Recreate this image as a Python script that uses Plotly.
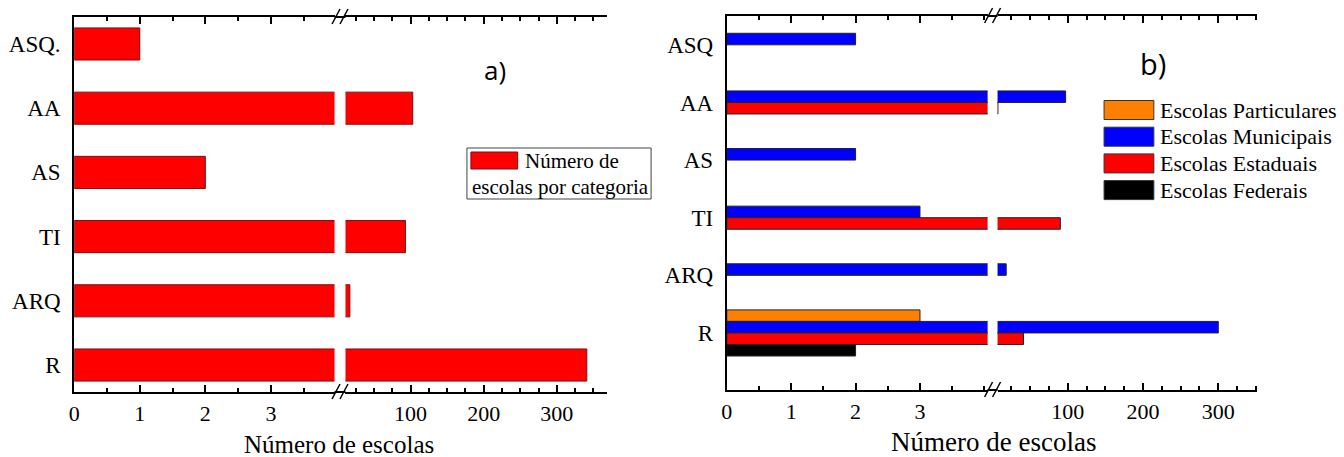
import plotly.graph_objects as go

# ---------------- data ----------------
categories_a = ["R", "ARQ", "TI", "AS", "AA", "ASQ."]
values_a = [341, 17, 93, 2, 103, 1]

categories_b = ["R", "ARQ", "TI", "AS", "AA", "ASQ"]
particulares = [3, None, None, None, None, None]
municipais = [300, 18, 3, 2, 97, 2]
estaduais = [41, None, 90, None, 7, None]
federais = [2, None, None, None, None, None]

series_names_b = ["Escolas Particulares", "Escolas Municipais", "Escolas Estaduais", "Escolas Federais"]
series_values_b = [particulares, municipais, estaduais, federais]

left_tickvals = [0, 1, 2, 3]
right_tickvals = [100, 200, 300]

legend_a_line1 = "Número de"
legend_a_line2 = "escolas por categoria"
x_title = "Número de escolas"

# ---------------- styles ----------------
W, H = 1344, 457
colors_b = ["#FF8000", "#0000FF", "#FF0000", "#000000"]
offsets_b = [0.2, 0.0, -0.2, -0.4]
FONT = "Liberation Serif"


def fx(px):
    return px / W


def fy(py):
    return 1 - py / H


fig = go.Figure()

# panel a
for xa in ["x", "x2"]:
    fig.add_trace(go.Bar(
        x=values_a, y=categories_a, orientation="h", xaxis=xa, yaxis="y",
        width=0.5, marker=dict(color="#FF0000", line=dict(color="#7a1010", width=1)),
        showlegend=False, name="Número de escolas por categoria"))

# panel b
for name, vals, col, off in zip(series_names_b, series_values_b, colors_b, offsets_b):
    for xa in ["x3", "x4"]:
        fig.add_trace(go.Bar(
            x=vals, y=categories_b, orientation="h", xaxis=xa, yaxis="y2",
            width=0.2, offset=off,
            marker=dict(color=col, line=dict(color="#222222", width=1)),
            name=name, showlegend=False))

common_x = dict(
    showline=True, linewidth=2, linecolor="black", mirror="ticks",
    ticks="inside", ticklen=7, tickwidth=1.5, tickcolor="black",
    showgrid=False, zeroline=False, fixedrange=True,
    tickfont=dict(family=FONT, size=22, color="black"),
    ticklabelstandoff=1,
)

fig.update_layout(
    width=W, height=H,
    margin=dict(l=0, r=0, t=0, b=0),
    paper_bgcolor="white", plot_bgcolor="white",
    barmode="overlay", showlegend=False,
    font=dict(family=FONT, color="black"),
    xaxis=dict(domain=[fx(68.5), fx(330)], range=[0, 3.97], anchor="y",
               tickvals=left_tickvals,
               minor=dict(dtick=0.5, tick0=0, ticks="inside", ticklen=4, tickcolor="black"),
               **common_x),
    xaxis2=dict(domain=[fx(341), fx(604)], range=[11, 369], anchor="y",
                tickvals=right_tickvals,
                minor=dict(dtick=25, tick0=0, ticks="inside", ticklen=4, tickcolor="black"),
                **common_x),
    yaxis=dict(domain=[fy(392), fy(17)], anchor="x", type="category",
               categoryorder="array", categoryarray=categories_a,
               range=[-0.42, 5.42], showline=True, linewidth=2, linecolor="black",
               ticks="", showgrid=False, zeroline=False, ticklabelstandoff=7,
               tickfont=dict(family=FONT, size=23, color="black")),
    xaxis3=dict(domain=[fx(724), fx(986)], range=[0, 4.05], anchor="y2",
                tickvals=left_tickvals,
                minor=dict(dtick=0.5, tick0=0, ticks="inside", ticklen=4, tickcolor="black"),
                **common_x),
    xaxis4=dict(domain=[fx(996), fx(1257)], range=[6.5, 352], anchor="y2",
                tickvals=right_tickvals,
                minor=dict(dtick=25, tick0=0, ticks="inside", ticklen=4, tickcolor="black"),
                **common_x),
    yaxis2=dict(domain=[fy(390), fy(16)], anchor="x3", type="category",
                categoryorder="array", categoryarray=categories_b,
                range=[-0.99, 5.5], showline=True, linewidth=2, linecolor="black",
                ticks="", showgrid=False, zeroline=False, ticklabelstandoff=7,
                tickfont=dict(family=FONT, size=23, color="black")),
)

# ---- broken-axis decorations ----
shapes = []
for (x0, x1, ytop, ybot) in [(330, 341, 17, 392), (986, 996, 16, 390)]:
    xc = (x0 + x1) / 2 + 1
    for yy in (ytop, ybot):
        shapes.append(dict(type="line", xref="paper", yref="paper",
                           x0=fx(x0), x1=fx(x1), y0=fy(yy), y1=fy(yy),
                           line=dict(color="black", width=2)))
        for dx in (-5, 3):
            shapes.append(dict(type="line", xref="paper", yref="paper",
                               x0=fx(xc + dx - 4), x1=fx(xc + dx + 4),
                               y0=fy(yy + 7), y1=fy(yy - 8),
                               line=dict(color="black", width=1.5)))

annotations = []

# legend for panel a (box with wrapped label)
shapes.append(dict(type="rect", xref="paper", yref="paper",
                   x0=fx(463), x1=fx(648), y0=fy(199), y1=fy(148),
                   line=dict(color="#444444", width=1), fillcolor="white", layer="above"))
shapes.append(dict(type="rect", xref="paper", yref="paper",
                   x0=fx(467), x1=fx(514), y0=fy(169), y1=fy(152),
                   line=dict(color="#7a1010", width=1), fillcolor="#FF0000", layer="above"))
annotations += [
    dict(text=legend_a_line1, x=fx(519), y=fy(161), xref="paper", yref="paper",
         xanchor="left", yanchor="middle", showarrow=False,
         font=dict(family=FONT, size=21, color="black")),
    dict(text=legend_a_line2, x=fx(466), y=fy(187), xref="paper", yref="paper",
         xanchor="left", yanchor="middle", showarrow=False,
         font=dict(family=FONT, size=21, color="black")),
]

# legend for panel b
for i, (name, col) in enumerate(zip(series_names_b, colors_b)):
    yc = 110 + 26.7 * i
    shapes.append(dict(type="rect", xref="paper", yref="paper",
                       x0=fx(1103), x1=fx(1153), y0=fy(yc + 9.5), y1=fy(yc - 9.5),
                       line=dict(color="#333333", width=1), fillcolor=col, layer="above"))
    annotations.append(dict(text=name, x=fx(1157), y=fy(yc), xref="paper", yref="paper",
                            xanchor="left", yanchor="middle", showarrow=False,
                            font=dict(family=FONT, size=22, color="black")))

annotations += [
    dict(text=x_title, x=fx(334), y=fy(444), xref="paper", yref="paper",
         xanchor="center", yanchor="middle", showarrow=False,
         font=dict(family=FONT, size=25, color="black")),
    dict(text=x_title, x=fx(992), y=fy(442), xref="paper", yref="paper",
         xanchor="center", yanchor="middle", showarrow=False,
         font=dict(family=FONT, size=27, color="black")),
    dict(text="a)", x=fx(491), y=fy(70), xref="paper", yref="paper",
         xanchor="center", yanchor="middle", showarrow=False,
         font=dict(family="Open Sans", size=26, color="black")),
    dict(text="b)", x=fx(1152), y=fy(63), xref="paper", yref="paper",
         xanchor="center", yanchor="middle", showarrow=False,
         font=dict(family="Open Sans", size=29, color="black")),
]
fig.update_layout(shapes=shapes, annotations=annotations)

fig.write_html("out.html")
